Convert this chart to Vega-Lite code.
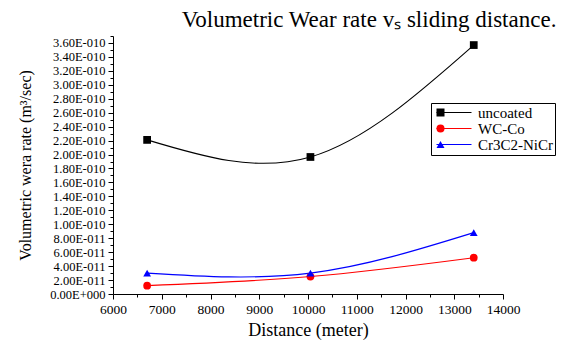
{
  "$schema": "https://vega.github.io/schema/vega-lite/v6.json",
  "width": 390,
  "height": 258,
  "autosize": "none",
  "padding": {"left": 113, "top": 36, "right": 63, "bottom": 46},
  "background": "white",
  "config": {
    "view": {"stroke": null},
    "font": "Liberation Serif",
    "axis": {
      "domainColor": "black",
      "tickColor": "black",
      "labelColor": "black",
      "titleColor": "black",
      "grid": false,
      "labelFont": "Liberation Serif",
      "titleFont": "Liberation Serif",
      "titleFontWeight": "normal",
      "tickSize": 5,
      "labelFlush": false,
      "labelOverlap": false
    },
    "legend": {"labelFont": "Liberation Serif"}
  },
  "title": {
    "text": "Volumetric Wear rate vₛ sliding distance.",
    "font": "Liberation Serif",
    "fontSize": 23,
    "fontWeight": "normal",
    "color": "black",
    "anchor": "middle",
    "dx": 61,
    "offset": 4
  },
  "data": {
    "values": [
      {"distance": 6700, "rate": 2.21e-10, "series": "uncoated"},
      {"distance": 10050, "rate": 1.965e-10, "series": "uncoated"},
      {"distance": 13400, "rate": 3.57e-10, "series": "uncoated"},
      {"distance": 6700, "rate": 1.2e-11, "series": "WC-Co"},
      {"distance": 10050, "rate": 2.5e-11, "series": "WC-Co"},
      {"distance": 13400, "rate": 5.2e-11, "series": "WC-Co"},
      {"distance": 6700, "rate": 3.0e-11, "series": "Cr3C2-NiCr"},
      {"distance": 10050, "rate": 3.0e-11, "series": "Cr3C2-NiCr"},
      {"distance": 13400, "rate": 8.8e-11, "series": "Cr3C2-NiCr"}
    ]
  },
  "resolve": {"axis": {"x": "independent", "y": "independent"}},
  "layer": [
    {
      "mark": {"type": "line", "interpolate": "natural", "strokeWidth": 1.1},
      "encoding": {
        "x": {
          "field": "distance",
          "type": "quantitative",
          "scale": {"domain": [6000, 14000], "nice": false, "zero": false},
          "axis": {
            "orient": "bottom",
            "title": "Distance (meter)",
            "values": [6000, 7000, 8000, 9000, 10000, 11000, 12000, 13000, 14000],
            "format": "d",
            "labelFont": "Liberation Serif",
            "labelFontSize": 13.5,
            "titleFontSize": 18,
            "labelPadding": 3,
            "titlePadding": 6,
            "labelFlush": false,
            "labelOverlap": false
          }
        },
        "y": {
          "field": "rate",
          "type": "quantitative",
          "scale": {"domain": [0, 3.7e-10], "nice": false},
          "axis": {
            "orient": "left",
            "title": "Volumetric wera rate (m³/sec)",
            "values": [0, 2e-11, 4e-11, 6e-11, 8e-11, 1e-10, 1.2e-10, 1.4e-10, 1.6e-10, 1.8e-10, 2e-10, 2.2e-10, 2.4e-10, 2.6e-10, 2.8e-10, 3e-10, 3.2e-10, 3.4e-10, 3.6e-10],
            "labelExpr": "datum.value == 0 ? '0.00E+000' : format(datum.value / pow(10, floor(log(datum.value) / LN10 + 1e-9)), '.2f') + 'E-0' + abs(floor(log(datum.value) / LN10 + 1e-9))",
            "labelFont": "Liberation Serif",
            "labelFontSize": 12.5,
            "titleFontSize": 16,
            "labelPadding": 3,
            "titlePadding": 16,
            "labelFlush": false,
            "labelOverlap": false
          }
        },
        "stroke": {
          "field": "series",
          "type": "nominal",
          "sort": ["uncoated", "WC-Co", "Cr3C2-NiCr"],
          "scale": {"range": ["#000000", "#ff0000", "#0000ff"]},
          "legend": {
            "title": null,
            "orient": "none",
            "legendX": 318,
            "legendY": 67,
            "zindex": 1,
            "padding": 2,
            "strokeColor": "black",
            "fillColor": "white",
            "labelFontSize": 15,
            "labelFont": "Liberation Serif",
            "labelColor": "black",
            "symbolSize": 196,
            "labelOffset": 30,
            "rowPadding": 0,
            "encode": {
              "symbols": {
                "update": {
                  "shape": {"value": "M-2.5,0H2.5"},
                  "x": {"value": 21},
                  "strokeWidth": {"value": 1},
                  "opacity": {"value": 1}
                }
              }
            }
          }
        }
      }
    },
    {
      "mark": {"type": "point", "filled": true, "opacity": 1, "size": 60},
      "encoding": {
        "x": {
          "field": "distance",
          "type": "quantitative",
          "axis": {
            "orient": "bottom",
            "title": null,
            "labels": false,
            "domain": false,
            "tickSize": 3,
            "values": [6500, 7500, 8500, 9500, 10500, 11500, 12500, 13500]
          }
        },
        "y": {
          "field": "rate",
          "type": "quantitative",
          "axis": {
            "orient": "left",
            "title": null,
            "labels": false,
            "domain": false,
            "tickSize": 3,
            "values": [1e-11, 3e-11, 5e-11, 7e-11, 9e-11, 1.1e-10, 1.3e-10, 1.5e-10, 1.7e-10, 1.9e-10, 2.1e-10, 2.3e-10, 2.5e-10, 2.7e-10, 2.9e-10, 3.1e-10, 3.3e-10, 3.5e-10, 3.7e-10]
          }
        },
        "fill": {
          "field": "series",
          "type": "nominal",
          "scale": {"domain": ["uncoated", "WC-Co", "Cr3C2-NiCr"], "range": ["#000000", "#ff0000", "#0000ff"]},
          "legend": {
            "title": null,
            "orient": "none",
            "legendX": 318,
            "legendY": 67,
            "zindex": 2,
            "padding": 2,
            "strokeColor": "transparent",
            "fillColor": "transparent",
            "labelFontSize": 15,
            "labelFont": "Liberation Serif",
            "labelExpr": "' '",
            "symbolSize": 64,
            "labelOffset": 36,
            "rowPadding": 0,
            "encode": {
              "symbols": {
                "update": {
                  "x": {"value": 21},
                  "opacity": {"value": 1}
                }
              }
            }
          }
        },
        "shape": {
          "field": "series",
          "type": "nominal",
          "scale": {"domain": ["uncoated", "WC-Co", "Cr3C2-NiCr"], "range": ["square", "circle", "triangle-up"]},
          "legend": {
            "title": null,
            "orient": "none",
            "legendX": 318,
            "legendY": 67,
            "zindex": 2,
            "padding": 2,
            "strokeColor": "transparent",
            "fillColor": "transparent",
            "labelFontSize": 15,
            "labelFont": "Liberation Serif",
            "labelExpr": "' '",
            "symbolSize": 64,
            "labelOffset": 36,
            "rowPadding": 0,
            "encode": {
              "symbols": {
                "update": {
                  "x": {"value": 21},
                  "opacity": {"value": 1}
                }
              }
            }
          }
        }
      }
    }
  ]
}
